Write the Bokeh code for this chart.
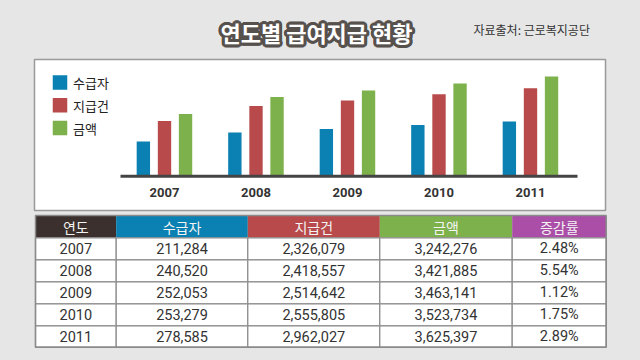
import math
from bokeh.plotting import figure
from bokeh.models import Range1d, ColumnDataSource
from bokeh.transform import dodge
from bokeh.core.properties import value
from bokeh.embed import file_html
from bokeh.resources import INLINE

# ---------------- data ----------------
title_text = "연도별 급여지급 현황"
source_text = "자료출처: 근로복지공단"

years = ["2007", "2008", "2009", "2010", "2011"]
year_nums = [2007, 2008, 2009, 2010, 2011]

# bar heights as drawn in the chart (relative index)
bar_recipients = [34.7, 43.7, 47.3, 51.3, 54.7]
bar_payments = [55.3, 70.3, 75.7, 82.0, 88.0]
bar_amount = [62.3, 79.3, 85.7, 92.7, 99.7]

series_names = ["수급자", "지급건", "금액"]
series_colors = ["#0b80b2", "#b84a4b", "#7db14b"]

table_header = ["연도", "수급자", "지급건", "금액", "증감률"]
header_colors = ["#3b302d", "#0b80b2", "#b84a4b", "#7db14b", "#aa4ea8"]
tbl_recipients = [211284, 240520, 252053, 253279, 278585]
tbl_payments = [2326079, 2418557, 2514642, 2555805, 2962027]
tbl_amount = [3242276, 3421885, 3463141, 3523734, 3625397]
tbl_growth = [2.48, 5.54, 1.12, 1.75, 2.89]

# ---------------- layout ----------------
BG = "#e6e6e6"
OFF = 0
W, H = 640, 360
KR = value("Noto Sans CJK KR")
NUM = value("Roboto")

p = figure(width=W, height=H,
           x_range=Range1d(OFF, OFF + W), y_range=Range1d(OFF + H, OFF),
           output_backend="svg", toolbar_location=None,
           x_axis_type=None, y_axis_type=None, min_border=0,
           background_fill_color=BG, border_fill_color=BG,
           outline_line_color=None)

# title with outline
TX, TY = 316, 31.5
for k in range(20):
    a = 2 * math.pi * k / 20
    p.text(x=[TX + 3.0 * math.cos(a)], y=[TY + 3.0 * math.sin(a)], text=[title_text],
           text_font=KR, text_font_style="bold", text_font_size="22px",
           text_color="#57514e", text_align="center", text_baseline="middle")
p.text(x=[TX], y=[TY], text=[title_text], text_font=KR, text_font_style="bold",
       text_font_size="22px", text_color="white", text_align="center",
       text_baseline="middle")

p.text(x=[473], y=[28.5], text=[source_text], text_font=KR, text_font_size="12px",
       text_color="#333333", text_align="left", text_baseline="middle")

# chart panel
p.quad(left=34, right=605, top=59, bottom=210, fill_color="white",
       line_color="#9a9a9a", line_width=1.5)

# bar chart scales
PX_PER_YEAR = 91.5
G0 = 164.0
BASE = 175.7
x_start = year_nums[0] - (G0 - OFF) / PX_PER_YEAR
p.extra_x_ranges = {"yr": Range1d(x_start, x_start + W / PX_PER_YEAR)}
p.extra_y_ranges = {"bar": Range1d(-(OFF + H - BASE), BASE - OFF)}

src = ColumnDataSource(dict(year=year_nums, label=years, r=bar_recipients,
                            c=bar_payments, a=bar_amount))
offsets = [-0.231, 0.0, 0.230]
for col, off, color in zip(["r", "c", "a"], offsets, series_colors):
    p.vbar(x=dodge("year", off), top=col, bottom=0, width=0.146, source=src,
           x_range_name="yr", y_range_name="bar", fill_color=color, line_color=None)

p.segment(x0=[120], x1=[577], y0=[BASE], y1=[BASE], line_color="#444444", line_width=3)

p.text(x="year", y=-16.5, text="label", source=src, x_range_name="yr",
       y_range_name="bar", text_font=NUM, text_font_style="bold",
       text_font_size="13px", text_color="#333333", text_align="center",
       text_baseline="middle")

# legend
leg_y = [82 + i * 22.75 for i in range(len(series_names))]
p.rect(x=[59.5] * 3, y=leg_y, width=14.5, height=14.5, fill_color=series_colors,
       line_color=None)
p.text(x=[72.5] * 3, y=leg_y, text=series_names, text_font=KR, text_font_size="13px",
       text_color="#222222", text_align="left", text_baseline="middle")

# table
col_edges = [35, 115.7, 247.3, 379.3, 511.7, 605.7]
row_edges = [215, 237.3, 259.3, 281.3, 303.3, 325.3, 346.7]
col_c = [(col_edges[i] + col_edges[i + 1]) / 2 for i in range(5)]

# header
p.quad(left=col_edges[:-1], right=col_edges[1:], top=[row_edges[0]] * 5,
       bottom=[row_edges[1]] * 5, fill_color=header_colors, line_color=None)
hy = (row_edges[0] + row_edges[1]) / 2
p.text(x=col_c, y=[hy] * 5, text=table_header, text_font=KR, text_font_size="14px",
       text_color="#f4f4f4", text_align="center", text_baseline="middle")

# body cells
L, R, T, B = [], [], [], []
for ri in range(5):
    for ci in range(5):
        L.append(col_edges[ci]); R.append(col_edges[ci + 1])
        T.append(row_edges[ri + 1]); B.append(row_edges[ri + 2])
p.quad(left=L, right=R, top=T, bottom=B, fill_color="white",
       line_color="#8a8a8a", line_width=1.2)
# outer border
p.quad(left=[col_edges[0]], right=[col_edges[-1]], top=[row_edges[0]],
       bottom=[row_edges[-1]], fill_color=None, line_color="#8a8a8a", line_width=1.5)

cols = [years,
        [f"{v:,}" for v in tbl_recipients],
        [f"{v:,}" for v in tbl_payments],
        [f"{v:,}" for v in tbl_amount],
        [f"{v:.2f}%" for v in tbl_growth]]
tx, ty, tt = [], [], []
for ri in range(5):
    yc = (row_edges[ri + 1] + row_edges[ri + 2]) / 2
    for ci in range(5):
        tx.append(col_c[ci]); ty.append(yc); tt.append(cols[ci][ri])
p.text(x=tx, y=ty, text=tt, text_font=NUM, text_font_size="14.5px",
       text_color="#333333", text_align="center", text_baseline="middle")

html = file_html(p, INLINE)
html = html.replace("</head>", "<style>body{background:%s;}</style></head>" % BG)
open("out.html", "w").write(html)
